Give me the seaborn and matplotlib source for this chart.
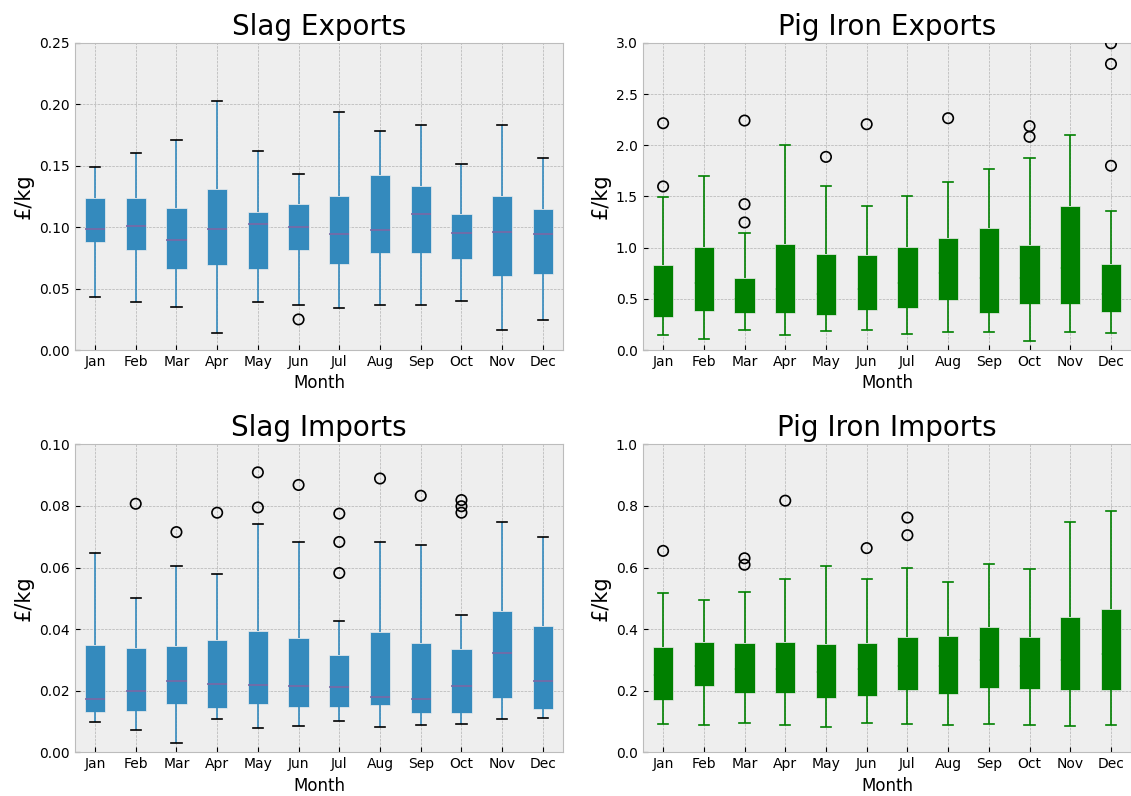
import matplotlib
matplotlib.use("Agg")
import matplotlib.pyplot as plt
import seaborn as sns
import pandas as pd

months = ["Jan", "Feb", "Mar", "Apr", "May", "Jun",
          "Jul", "Aug", "Sep", "Oct", "Nov", "Dec"]

# Slag exports (£/kg): whisker ends, quartiles and medians per month
slag_exp_low = [0.0431, 0.0393, 0.0350, 0.0138, 0.0388, 0.0363, 0.0342, 0.0369, 0.0369, 0.0399, 0.0160, 0.0241]
slag_exp_q1 = [0.0881, 0.0816, 0.0662, 0.0694, 0.0662, 0.0811, 0.0697, 0.0792, 0.0786, 0.0738, 0.0602, 0.0616]
slag_exp_med = [0.0987, 0.1009, 0.0892, 0.0982, 0.1030, 0.0998, 0.0946, 0.0976, 0.1106, 0.0954, 0.0963, 0.0946]
slag_exp_q3 = [0.1239, 0.1239, 0.1158, 0.1312, 0.1125, 0.1188, 0.1253, 0.1429, 0.1339, 0.1109, 0.1250, 0.1150]
slag_exp_high = [0.1489, 0.1602, 0.1711, 0.2031, 0.1624, 0.1434, 0.1941, 0.1787, 0.1830, 0.1518, 0.1830, 0.1565]
slag_exp_out_month = ["Jun"]
slag_exp_out_value = [0.0249]

# Pig iron exports (£/kg)
pig_exp_low = [0.146, 0.111, 0.195, 0.146, 0.185, 0.192, 0.153, 0.176, 0.176, 0.088, 0.179, 0.166]
pig_exp_q1 = [0.322, 0.377, 0.358, 0.361, 0.342, 0.394, 0.407, 0.491, 0.361, 0.446, 0.449, 0.374]
pig_exp_med = [0.55, 0.65, 0.50, 0.60, 0.55, 0.60, 0.65, 0.75, 0.70, 0.70, 0.80, 0.55]
pig_exp_q3 = [0.830, 1.009, 0.703, 1.035, 0.940, 0.931, 1.009, 1.090, 1.197, 1.025, 1.409, 0.836]
pig_exp_high = [1.498, 1.699, 1.145, 2.004, 1.601, 1.406, 1.503, 1.643, 1.767, 1.881, 2.102, 1.360]
pig_exp_out_month = ["Jan", "Jan", "Mar", "Mar", "Mar", "May", "Jun", "Aug",
                     "Oct", "Oct", "Dec", "Dec", "Dec"]
pig_exp_out_value = [1.598, 2.216, 1.246, 1.425, 2.242, 1.887, 2.206, 2.265,
                     2.083, 2.187, 1.800, 2.795, 2.997]

# Slag imports (£/kg)
slag_imp_low = [0.0097, 0.0074, 0.0031, 0.0107, 0.0078, 0.0087, 0.0103, 0.0082, 0.0089, 0.0091, 0.0109, 0.0110]
slag_imp_q1 = [0.0132, 0.0134, 0.0158, 0.0145, 0.0157, 0.0148, 0.0148, 0.0153, 0.0129, 0.0128, 0.0176, 0.0139]
slag_imp_med = [0.0174, 0.0198, 0.0232, 0.0223, 0.0220, 0.0215, 0.0212, 0.0181, 0.0173, 0.0215, 0.0321, 0.0232]
slag_imp_q3 = [0.0350, 0.0340, 0.0345, 0.0365, 0.0393, 0.0371, 0.0316, 0.0392, 0.0355, 0.0335, 0.0459, 0.0411]
slag_imp_high = [0.0648, 0.0502, 0.0605, 0.0578, 0.0742, 0.0682, 0.0425, 0.0684, 0.0673, 0.0446, 0.0749, 0.0700]
slag_imp_out_month = ["Feb", "Mar", "Apr", "May", "May", "Jun", "Jul", "Jul", "Jul",
                      "Aug", "Sep", "Oct", "Oct", "Oct"]
slag_imp_out_value = [0.0807, 0.0715, 0.0778, 0.0795, 0.0909, 0.0868, 0.0582, 0.0683, 0.0775,
                      0.0889, 0.0833, 0.0778, 0.0799, 0.0819]

# Pig iron imports (£/kg)
pig_imp_low = [0.092, 0.089, 0.094, 0.090, 0.081, 0.095, 0.092, 0.089, 0.092, 0.088, 0.087, 0.088]
pig_imp_q1 = [0.170, 0.215, 0.193, 0.193, 0.175, 0.182, 0.201, 0.189, 0.210, 0.207, 0.201, 0.201]
pig_imp_med = [0.25, 0.28, 0.27, 0.27, 0.26, 0.27, 0.28, 0.28, 0.30, 0.28, 0.30, 0.32]
pig_imp_q3 = [0.341, 0.359, 0.356, 0.358, 0.352, 0.356, 0.373, 0.378, 0.406, 0.373, 0.439, 0.464]
pig_imp_high = [0.517, 0.496, 0.522, 0.563, 0.606, 0.562, 0.597, 0.554, 0.613, 0.595, 0.747, 0.785]
pig_imp_out_month = ["Jan", "Mar", "Mar", "Apr", "Jun", "Jul", "Jul"]
pig_imp_out_value = [0.654, 0.609, 0.630, 0.817, 0.663, 0.705, 0.762]

plt.style.use("bmh")

BLUE = "#348ABD"
PURPLE = "#7A68A6"
GREEN = "green"


def summary_frame(low, q1, med, q3, high):
    rows = []
    for i, m in enumerate(months):
        for v in (low[i], q1[i], med[i], q3[i], high[i]):
            rows.append((m, v))
    return pd.DataFrame(rows, columns=["Month", "Price"])


def draw_panel(ax, title, low, q1, med, q3, high, out_month, out_value,
               box_color, cap_color, median_color, ylim, yticks):
    df = summary_frame(low, q1, med, q3, high)
    # a median in the box colour sits underneath the box face
    median_z = 0.9 if median_color == box_color else 2.5
    sns.boxplot(data=df, x="Month", y="Price", order=months, ax=ax,
                whis=(0, 100), width=0.5, saturation=1, showfliers=False,
                color=box_color,
                boxprops=dict(facecolor=box_color, edgecolor="#eeeeee", linewidth=0.5, zorder=1),
                whiskerprops=dict(color=box_color, linewidth=1.2),
                capprops=dict(color=cap_color, linewidth=1.2),
                medianprops=dict(color=median_color, linewidth=1.2,
                                 solid_capstyle="butt", zorder=median_z))
    fl = pd.DataFrame({"Month": out_month, "Price": out_value})
    sns.stripplot(data=fl, x="Month", y="Price", order=months, ax=ax,
                  jitter=False, marker="o", size=7.5, linewidth=1.2,
                  facecolors="none", edgecolor="black", color="black", zorder=3)
    ax.set_xlim(-0.5, len(months) - 0.5)
    ax.set_ylim(*ylim)
    ax.set_yticks(yticks)
    ax.grid(True, axis="both")
    ax.set_axisbelow(True)
    ax.tick_params(labelsize=10)
    ax.set_title(title, fontsize=20)
    ax.set_xlabel("Month", fontsize=12)
    ax.set_ylabel("£/kg", fontsize=15)


fig = plt.figure(figsize=(11.31, 7.96), dpi=100)
ax1 = fig.add_axes([0.0660, 0.5603, 0.4320, 0.3857])
ax2 = fig.add_axes([0.5683, 0.5603, 0.4320, 0.3857])
ax3 = fig.add_axes([0.0660, 0.0549, 0.4320, 0.3869])
ax4 = fig.add_axes([0.5683, 0.0549, 0.4320, 0.3869])

draw_panel(ax1, "Slag Exports", slag_exp_low, slag_exp_q1, slag_exp_med, slag_exp_q3,
           slag_exp_high, slag_exp_out_month, slag_exp_out_value,
           BLUE, "black", PURPLE, (0, 0.25), [0, 0.05, 0.10, 0.15, 0.20, 0.25])
draw_panel(ax2, "Pig Iron Exports", pig_exp_low, pig_exp_q1, pig_exp_med, pig_exp_q3,
           pig_exp_high, pig_exp_out_month, pig_exp_out_value,
           GREEN, GREEN, GREEN, (0, 3.0), [0, 0.5, 1.0, 1.5, 2.0, 2.5, 3.0])
draw_panel(ax3, "Slag Imports", slag_imp_low, slag_imp_q1, slag_imp_med, slag_imp_q3,
           slag_imp_high, slag_imp_out_month, slag_imp_out_value,
           BLUE, "black", PURPLE, (0, 0.10), [0, 0.02, 0.04, 0.06, 0.08, 0.10])
draw_panel(ax4, "Pig Iron Imports", pig_imp_low, pig_imp_q1, pig_imp_med, pig_imp_q3,
           pig_imp_high, pig_imp_out_month, pig_imp_out_value,
           GREEN, GREEN, GREEN, (0, 1.0), [0, 0.2, 0.4, 0.6, 0.8, 1.0])

fig.savefig("out.png", dpi=100)
